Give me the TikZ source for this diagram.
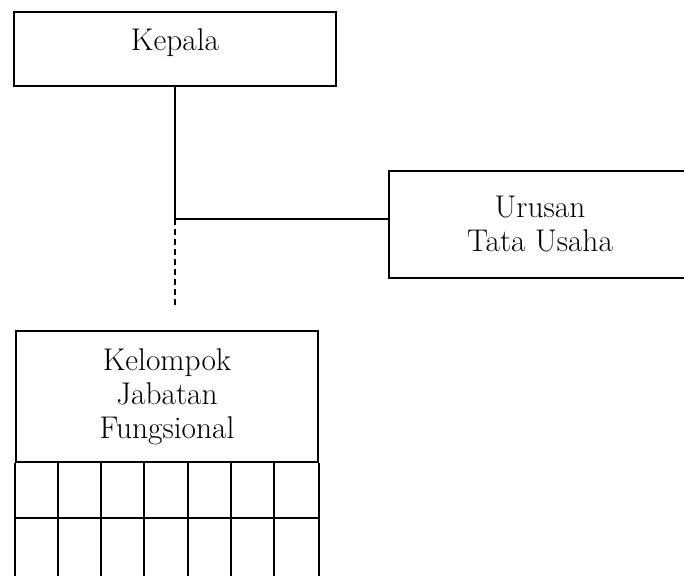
\documentclass[tikz,border=0pt]{standalone}
\usepackage{amsmath,amssymb}
\usepackage{tikz}
\usetikzlibrary{positioning,calc}
\tikzset{orgbox/.style={draw,line width=1pt,rectangle,align=center,
    font=\fontsize{15.7}{17}\selectfont}}
\tikzset{gridline/.style={line width=1pt}}

\begin{document}
\begin{tikzpicture}[x=0.5pt,y=-0.5pt]
                \useasboundingbox (0,0) rectangle (684,575);
                \clip (0,0) rectangle (684,575);
                
                % Boxes
                \node[orgbox,minimum width=161pt,minimum height=37pt,text depth=9pt] (kepala) at (175,49) {Kepala};
                \node[orgbox,minimum width=151pt,minimum height=53.5pt] (urusan) at (540,224.5) {Urusan\\Tata Usaha};
                \node[orgbox,minimum width=151pt,minimum height=65.5pt] (kjf) at (167,396.5) {Kelompok\\Jabatan\\Fungsional};
                
                \coordinate (cabang) at (175,219);
                \coordinate (ujung) at (175,308);
                
                % Lines
                \draw[line width=1pt] (kepala.south) -- (cabang);
                \draw[line width=1pt] (cabang) -- (urusan.west |- cabang);
                \draw[line width=1pt,dash pattern=on 3pt off 2pt] (cabang) -- (ujung);
                
                % Grid below the functional group
                \draw[gridline] (kjf.south west) -- ++(0,130);
                \draw[gridline] (kjf.south east) -- ++(0,130);
                \draw[gridline] ($(kjf.south west)+(0,55)$) -- ($(kjf.south east)+(0,55)$);
                \foreach \i in {1,...,6}
                    \draw[gridline] ($(kjf.south west)+(\i*43.14,0)$) -- ++(0,130);
            \end{tikzpicture}
\end{document}
